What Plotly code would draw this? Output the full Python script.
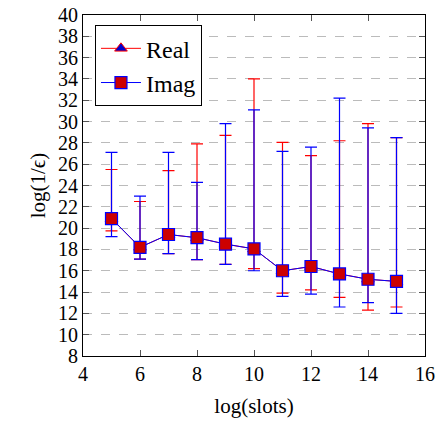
import plotly.graph_objects as go

slots = [5, 6, 7, 8, 9, 10, 11, 12, 13, 14, 15]
real_mean = [20.9, 18.2, 19.4, 19.1, 18.5, 18.05, 16.0, 16.4, 15.7, 15.2, 15.0]
real_top = [25.5, 22.5, 25.4, 27.9, 28.7, 34.0, 28.05, 26.8, 28.2, 29.8, 28.5]
real_bot = [19.75, 17.1, 17.6, 17.05, 16.6, 16.2, 13.9, 14.2, 13.5, 12.3, 12.6]
imag_mean = [20.9, 18.2, 19.4, 19.1, 18.5, 18.05, 16.0, 16.4, 15.7, 15.2, 15.0]
imag_top = [27.1, 23.0, 27.1, 24.3, 29.8, 31.1, 27.2, 27.6, 32.2, 29.4, 28.5]
imag_bot = [19.2, 17.1, 17.6, 17.05, 16.6, 16.0, 13.6, 13.8, 12.6, 13.0, 12.0]

def plus(top, m):
    return [t - v for t, v in zip(top, m)]

def minus(bot, m):
    return [v - b for b, v in zip(bot, m)]

fig = go.Figure()
fig.add_trace(go.Scatter(
    x=slots, y=real_mean, name="Real", mode="lines+markers",
    line=dict(color="#ff0000", width=1),
    marker=dict(symbol="triangle-up", size=11, color="#0000cc",
                line=dict(color="#ff0000", width=1)),
    error_y=dict(type="data", symmetric=False,
                 array=plus(real_top, real_mean),
                 arrayminus=minus(real_bot, real_mean),
                 color="#ff0000", thickness=1.2, width=6),
))
fig.add_trace(go.Scatter(
    x=slots, y=imag_mean, name="Imag", mode="lines+markers",
    line=dict(color="#0000ff", width=1),
    marker=dict(symbol="square", size=12, color="#cc0000",
                line=dict(color="#0000ff", width=1.2)),
    error_y=dict(type="data", symmetric=False,
                 array=plus(imag_top, imag_mean),
                 arrayminus=minus(imag_bot, imag_mean),
                 color="#0000ff", thickness=1.2, width=6),
))

font_family = "Liberation Serif"
fig.update_layout(
    width=438, height=428,
    margin=dict(l=83, r=13, t=15, b=72, autoexpand=False),
    paper_bgcolor="white", plot_bgcolor="white",
    font=dict(family=font_family, size=20, color="black"),
    showlegend=True,
    legend=dict(x=0.035, y=0.97, xanchor="left", yanchor="top",
                bordercolor="black", borderwidth=1, bgcolor="white",
                font=dict(family=font_family, size=24), tracegroupgap=2,
                itemwidth=40),
    xaxis=dict(range=[4, 16], tickmode="linear", tick0=4, dtick=2,
               showgrid=False, zeroline=False, showline=True, linecolor="black",
               linewidth=1, mirror="ticks", ticks="inside", ticklen=6,
               tickcolor="#555", automargin=False,
               title=dict(text="log(slots)", standoff=14,
                          font=dict(family=font_family, size=21)),
               tickfont=dict(family=font_family, size=20)),
    yaxis=dict(range=[8, 40], tickmode="linear", tick0=8, dtick=2,
               showgrid=True, gridcolor="#bbbbbb", griddash="dash", gridwidth=1,
               zeroline=False, showline=True, linecolor="black",
               linewidth=1, mirror="ticks", ticks="inside", ticklen=6,
               tickcolor="#555", automargin=False,
               title=dict(text="log(1/ϵ)", standoff=6,
                          font=dict(family=font_family, size=21)),
               tickfont=dict(family=font_family, size=20)),
)

fig.write_html("out.html")
